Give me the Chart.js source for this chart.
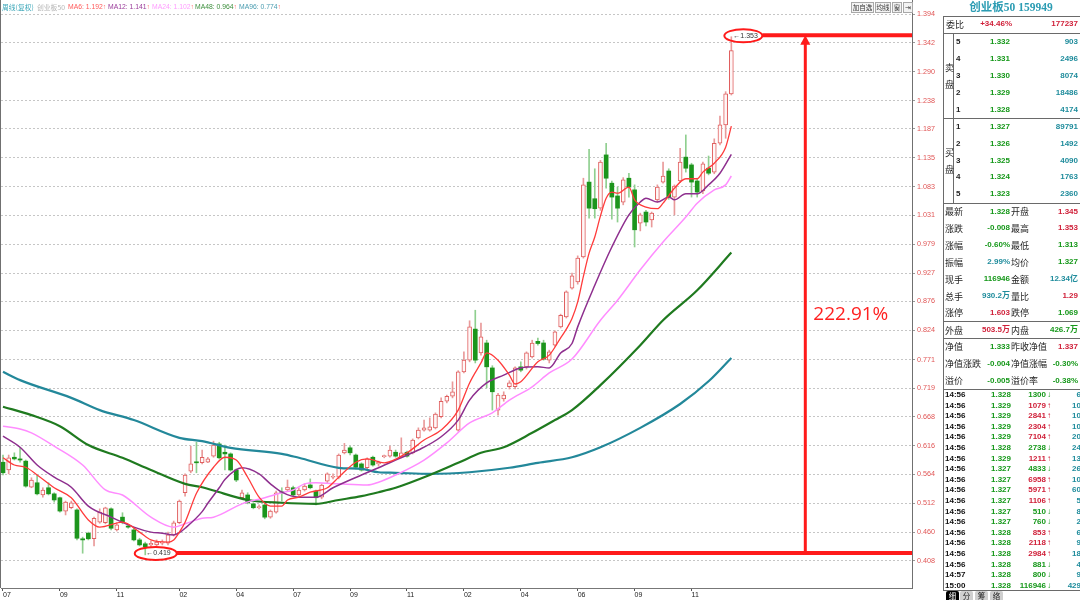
<!DOCTYPE html>
<html lang="zh-CN">
<head>
<meta charset="utf-8">
<title>创业板50 159949 周线</title>
<script src="https://cdn.jsdelivr.net/npm/chart.js@4.4.1/dist/chart.umd.min.js"></script>
<style>
html,body{margin:0;padding:0;background:#fff;}
#wrap{position:relative;width:1080px;height:600px;overflow:hidden;background:#fff;font-family:"Liberation Sans","Noto Sans CJK SC",Arial,sans-serif;}
#cv{position:absolute;left:0;top:0;}
.t{position:absolute;white-space:nowrap;}
.hl{position:absolute;height:1px;background:#6a6a6a;}
.vl{position:absolute;width:1px;background:#6a6a6a;}
.btn{position:absolute;top:2px;height:11px;border:1px solid #a8a8a8;background:#f3f3f3;font-size:6.5px;line-height:9px;text-align:center;color:#333;box-sizing:border-box;font-family:"Noto Sans CJK SC",sans-serif;}
.tab{position:absolute;top:591px;height:9px;width:13px;font-size:7.5px;line-height:9px;text-align:center;font-family:"Noto Sans CJK SC",sans-serif;border-radius:2px 2px 0 0;}
</style>
</head>
<body>
<div id="wrap">
<canvas id="cv" width="944" height="600"></canvas>
</div>
<script>
// ---------------- data (weekly candles) ----------------
const opens = [
0.586,0.572,0.595,0.592,0.588,0.541,0.549,0.527,0.540,0.529,
0.522,0.498,0.504,0.500,0.448,0.458,0.448,0.478,0.477,0.502,
0.464,0.487,0.471,0.464,0.446,0.439,0.437,0.437,0.440,0.440,
0.455,0.477,0.531,0.570,0.586,0.585,0.586,0.597,0.619,0.604,
0.601,0.572,0.522,0.527,0.511,0.504,0.509,0.487,0.496,0.532,
0.536,0.540,0.527,0.536,0.545,0.534,0.523,0.552,0.559,0.559,
0.603,0.612,0.599,0.583,0.576,0.595,0.583,0.596,0.597,0.604,
0.595,0.604,0.603,0.630,0.644,0.644,0.648,0.668,0.696,0.705,
0.644,0.749,0.770,0.826,0.783,0.801,0.756,0.680,0.700,0.722,
0.722,0.758,0.758,0.776,0.804,0.801,0.770,0.797,0.830,0.848,
0.900,0.911,0.956,1.091,1.061,1.044,1.140,1.089,1.066,1.055,
1.098,1.077,1.017,1.037,1.023,1.059,1.091,1.111,1.064,1.093,
1.136,1.122,1.093,1.075,1.116,1.109,1.161,1.194,1.250];
const highs = [
0.599,0.599,0.603,0.613,0.590,0.558,0.563,0.540,0.549,0.531,
0.523,0.516,0.516,0.502,0.451,0.460,0.487,0.502,0.505,0.504,
0.477,0.495,0.473,0.467,0.449,0.442,0.444,0.446,0.446,0.460,
0.480,0.518,0.565,0.615,0.622,0.608,0.595,0.624,0.622,0.617,
0.603,0.574,0.536,0.531,0.513,0.509,0.511,0.500,0.534,0.540,
0.554,0.543,0.540,0.547,0.556,0.536,0.547,0.567,0.565,0.601,
0.620,0.615,0.601,0.585,0.594,0.597,0.588,0.599,0.615,0.608,
0.630,0.606,0.628,0.648,0.662,0.666,0.675,0.702,0.707,0.731,
0.751,0.785,0.841,0.860,0.837,0.806,0.760,0.710,0.713,0.733,
0.758,0.767,0.785,0.806,0.810,0.806,0.788,0.823,0.853,0.895,
0.927,0.958,1.098,1.150,1.115,1.130,1.161,1.093,1.082,1.099,
1.107,1.086,1.035,1.040,1.037,1.086,1.127,1.115,1.086,1.152,
1.176,1.125,1.098,1.127,1.138,1.169,1.210,1.254,1.353];
const lows = [
0.563,0.565,0.590,0.586,0.541,0.540,0.527,0.523,0.527,0.514,
0.496,0.491,0.502,0.446,0.422,0.446,0.435,0.476,0.475,0.464,
0.462,0.475,0.467,0.444,0.435,0.419,0.433,0.435,0.437,0.437,
0.453,0.475,0.525,0.567,0.567,0.583,0.585,0.595,0.592,0.572,
0.570,0.551,0.520,0.511,0.502,0.502,0.484,0.485,0.494,0.516,
0.534,0.525,0.525,0.534,0.538,0.509,0.520,0.549,0.556,0.556,
0.601,0.599,0.574,0.570,0.574,0.579,0.579,0.594,0.595,0.595,
0.594,0.595,0.601,0.628,0.642,0.642,0.646,0.666,0.693,0.702,
0.642,0.747,0.767,0.765,0.779,0.720,0.680,0.671,0.696,0.718,
0.718,0.749,0.754,0.774,0.797,0.770,0.765,0.795,0.828,0.846,
0.898,0.907,0.954,1.026,1.026,1.040,1.080,1.024,1.019,1.050,
1.064,0.974,1.003,1.012,1.010,1.055,1.089,1.060,1.032,1.090,
1.109,1.064,1.064,1.070,1.104,1.106,1.158,1.170,1.248];
const closes = [
0.567,0.594,0.592,0.590,0.543,0.554,0.529,0.536,0.529,0.518,
0.498,0.514,0.513,0.449,0.446,0.448,0.485,0.496,0.504,0.467,
0.473,0.477,0.469,0.446,0.437,0.433,0.440,0.442,0.442,0.455,
0.477,0.516,0.563,0.583,0.585,0.595,0.592,0.617,0.594,0.601,
0.572,0.554,0.531,0.513,0.504,0.506,0.487,0.498,0.531,0.531,
0.541,0.527,0.536,0.543,0.540,0.522,0.545,0.565,0.560,0.599,
0.608,0.603,0.577,0.572,0.592,0.581,0.586,0.597,0.608,0.597,
0.603,0.597,0.626,0.644,0.648,0.650,0.673,0.696,0.705,0.713,
0.749,0.770,0.830,0.770,0.812,0.758,0.713,0.707,0.707,0.729,
0.756,0.752,0.783,0.801,0.800,0.772,0.785,0.821,0.851,0.893,
0.922,0.954,1.086,1.044,1.043,1.127,1.098,1.064,1.044,1.095,
1.082,1.005,1.032,1.019,1.035,1.082,1.102,1.063,1.084,1.127,
1.116,1.091,1.073,1.124,1.107,1.161,1.194,1.250,1.328];

// moving averages: [candle index, value]
const ma6 = [[0,.594],[2,.581],[4,.577],[6,.563],[9,.540],[12,.522],[15,.482],[17,.469],[21,.478],[24,.460],[26,.446],[29,.442],[30,.446],[31,.460],[32,.478],[34,.530],[37,.577],[39,.595],[41,.590],[43,.559],[45,.523],[47,.507],[49,.507],[50,.518],[52,.523],[54,.532],[57,.540],[59,.559],[62,.586],[64,.592],[67,.585],[71,.603],[74,.626],[77,.644],[80,.680],[82,.729],[84,.765],[85,.783],[87,.770],[89,.743],[90,.727],[91,.731],[94,.767],[96,.779],[98,.810],[99,.826],[100,.845],[101,.875],[102,.921],[103,.963],[104,.992],[105,1.030],[106,1.062],[107,1.073],[108,1.071],[110,1.082],[111,1.059],[113,1.046],[115,1.043],[116,1.053],[118,1.080],[120,1.097],[122,1.097],[123,1.109],[125,1.125],[127,1.154],[128,1.192]];
const ma12 = [[0,.633],[3,.613],[6,.581],[9,.559],[12,.541],[15,.507],[19,.487],[23,.469],[26,.460],[28,.458],[30,.455],[31,.459],[32,.467],[35,.497],[36,.512],[38,.540],[39,.555],[42,.576],[45,.565],[47,.547],[49,.532],[52,.523],[55,.523],[58,.540],[63,.563],[66,.576],[69,.590],[73,.608],[77,.632],[80,.662],[82,.698],[85,.729],[88,.743],[91,.756],[94,.758],[96,.756],[98,.783],[100,.800],[101,.830],[104,.905],[107,.974],[110,1.032],[112,1.055],[113,1.062],[115,1.055],[117,1.064],[118,1.059],[120,1.070],[122,1.070],[124,1.086],[126,1.107],[128,1.141]];
const ma24 = [[0,.651],[3,.646],[5,.639],[9,.615],[14,.581],[18,.536],[21,.527],[26,.487],[30,.469],[32,.475],[35,.485],[37,.487],[42,.511],[46,.522],[49,.531],[51,.536],[53,.547],[55,.549],[59,.547],[64,.545],[66,.550],[69,.563],[74,.590],[78,.621],[82,.657],[86,.675],[89,.698],[93,.722],[96,.747],[100,.772],[105,.842],[108,.878],[112,.933],[116,.983],[120,1.028],[122,1.053],[125,1.077],[127,1.086],[128,1.102]];
const ma48 = [[0,.686],[5,.671],[10,.651],[15,.617],[21,.594],[26,.572],[32,.547],[35,.541],[37,.535],[43,.518],[49,.513],[55,.511],[59,.518],[63,.525],[66,.532],[69,.540],[75,.563],[80,.585],[84,.603],[88,.613],[93,.639],[97,.662],[100,.680],[105,.725],[112,.797],[116,.842],[122,.896],[128,.964]];
const ma96 = [[0,.749],[3,.734],[12,.702],[17,.680],[23,.662],[31,.630],[35,.624],[40,.612],[49,.601],[52,.594],[59,.576],[63,.574],[66,.568],[69,.567],[75,.565],[82,.568],[89,.576],[94,.585],[100,.595],[105,.613],[112,.648],[119,.691],[124,.732],[128,.774]];

const yTickVals = [1.394,1.342,1.290,1.238,1.187,1.135,1.083,1.031,0.979,0.927,0.876,0.824,0.771,0.719,0.668,0.616,0.564,0.512,0.460,0.408];
const yTickLabels = ['1.394','1.342','1.290','1.238','1.187','1.135','1.083','1.031','0.979','0.927','0.876','0.824','0.771','0.719','0.668','0.616','0.564','0.512','0.460','0.408'];
const xTickIdx = [0,10,20,31,41,51,61,71,81,91,101,111,121];
const xTickLabels = ['07','09','11','02','04','07','09','11','02','04','06','09','11'];

const maNames = ['MA6','MA12','MA24','MA48','MA96'];
const maLast = ['1.192','1.141','1.102','0.964','0.774'];

// right-hand quote panel content
const askLevels = ['5','4','3','2','1'];
const askPrices = ['1.332','1.331','1.330','1.329','1.328'];
const askVols = ['903','2496','8074','18486','4174'];
const bidLevels = ['1','2','3','4','5'];
const bidPrices = ['1.327','1.326','1.325','1.324','1.323'];
const bidVols = ['89791','1492','4090','1763','2360'];
const infoRows = [
 ['最新','1.328','g','开盘','1.345','r'],
 ['涨跌','-0.008','g','最高','1.353','r'],
 ['涨幅','-0.60%','g','最低','1.313','g'],
 ['振幅','2.99%','t','均价','1.327','g'],
 ['现手','116946','g','金额','12.34亿','t'],
 ['总手','930.2万','t','量比','1.29','r'],
 ['涨停','1.603','r','跌停','1.069','g']];
const outerRow = ['外盘','503.5万','r','内盘','426.7万','g'];
const navRows = [
 ['净值','1.333','g','昨收净值','1.337','r'],
 ['净值涨跌','-0.004','g','净值涨幅','-0.30%','g'],
 ['溢价','-0.005','g','溢价率','-0.38%','g']];
const tickTimes = ['14:56','14:56','14:56','14:56','14:56','14:56','14:56','14:56','14:56','14:56','14:56','14:56','14:56','14:56','14:56','14:56','14:56','14:57','15:00'];
const tickPrices = ['1.328','1.329','1.329','1.329','1.329','1.328','1.329','1.327','1.327','1.327','1.327','1.327','1.327','1.328','1.328','1.328','1.328','1.328','1.328'];
const tickVols = ['1300','1079','2841','2304','7104','2738','1211','4833','6958','5971','1106','510','760','853','2118','2984','881','800','116946'];
const tickDirs = ['d','u','u','u','u','d','u','d','u','u','u','d','d','u','u','u','d','d','d'];
const tickCounts = ['6','10','10','10','20','24','13','26','10','60','5','8','2','6','9','18','4','9','429'];

// ---------------- chart ----------------
const C = {g:'#16981a', r:'#d0213a', t:'#1f8c9c', k:'#1e1e1e'};
const idxAll = closes.map((_, i) => i);
const upI = idxAll.filter(i => closes[i] >= opens[i]);
const dnI = idxAll.filter(i => closes[i] < opens[i]);
const toXY = arr => arr.map(p => ({x: p[0], y: p[1]}));
const arrowIdx = 141;

const maStyle = [
  {d: ma6,  c: '#ff3b3b', w: 1.3},
  {d: ma12, c: '#8e2f8e', w: 1.5},
  {d: ma24, c: '#ff8cff', w: 1.5},
  {d: ma48, c: '#1f7a1f', w: 2.2},
  {d: ma96, c: '#23889a', w: 2.2}
];

const markers = {
  id: 'markers',
  afterDatasetsDraw(chart) {
    const {ctx, chartArea: ca, scales: {x: xs, y: ys}} = chart;
    const hiVal = Math.max(...highs), hiI = highs.indexOf(hiVal);
    const loVal = Math.min(...lows), loI = lows.indexOf(loVal);
    const hx = xs.getPixelForValue(hiI), hy = ys.getPixelForValue(hiVal);
    const lx = xs.getPixelForValue(loI), ly = ys.getPixelForValue(loVal);
    ctx.save();
    // frame
    ctx.strokeStyle = '#707070'; ctx.lineWidth = 1;
    ctx.beginPath();
    ctx.moveTo(0.5, 0); ctx.lineTo(0.5, ca.bottom);
    const rx = Math.round(ca.right) + 0.5;
    ctx.moveTo(rx, 0); ctx.lineTo(rx, ca.bottom);
    ctx.stroke();
    const red = '#ff1a1a';
    // labels
    ctx.font = '7px "Liberation Sans", Arial, sans-serif';
    ctx.fillStyle = '#333'; ctx.textBaseline = 'middle'; ctx.textAlign = 'left';
    ctx.fillText('\u2190' + hiVal.toFixed(3), hx + 2, hy - 1);
    ctx.fillText('\u2190' + loVal.toFixed(3), lx + 1, ly - 2);
    ctx.strokeStyle = red; ctx.lineWidth = 2;
    ctx.beginPath(); ctx.ellipse(hx + 12, hy - 1, 19, 6.5, 0, 0, Math.PI * 2); ctx.stroke();
    ctx.beginPath(); ctx.ellipse(lx + 10.5, ly - 1.5, 21, 6.5, 0, 0, Math.PI * 2); ctx.stroke();
    // horizontal level lines
    ctx.lineWidth = 4;
    ctx.beginPath(); ctx.moveTo(hx + 31, hy - 1.5); ctx.lineTo(ca.right, hy - 1.5); ctx.stroke();
    ctx.beginPath(); ctx.moveTo(lx + 31.5, ly - 2); ctx.lineTo(ca.right, ly - 2); ctx.stroke();
    // vertical arrow
    const ax = xs.getPixelForValue(arrowIdx);
    ctx.lineWidth = 3;
    ctx.beginPath(); ctx.moveTo(ax, ly - 2); ctx.lineTo(ax, hy + 6); ctx.stroke();
    ctx.fillStyle = red;
    ctx.beginPath(); ctx.moveTo(ax, hy - 1.5); ctx.lineTo(ax - 5, hy + 8); ctx.lineTo(ax + 5, hy + 8); ctx.closePath(); ctx.fill();
    // gain text
    const pct = ((hiVal / loVal - 1) * 100).toFixed(2) + '%';
    ctx.font = '19px "Open Sans", "Liberation Sans", sans-serif';
    ctx.fillStyle = '#ff2020'; ctx.textBaseline = 'middle';
    ctx.fillText(pct, ax + 8, (hy + ly) / 2 + 19);
    ctx.restore();
  }
};

const datasets = [];
maStyle.forEach((m, k) => datasets.push({
  type: 'line', label: maNames[k], data: toXY(m.d), borderColor: m.c, borderWidth: m.w,
  pointRadius: 0, cubicInterpolationMode: 'monotone', fill: false, order: 0
}));
datasets.push({type: 'bar', label: 'up', data: upI.map(i => ({x: i, y: [opens[i], closes[i]]})),
  backgroundColor: '#fff7f7', borderColor: '#e05f5f', borderWidth: 1, borderSkipped: false,
  barThickness: 4, grouped: false, minBarLength: 1, order: 1});
datasets.push({type: 'bar', label: 'down', data: dnI.map(i => ({x: i, y: [opens[i], closes[i]]})),
  backgroundColor: '#1c951c', borderColor: '#1c951c', borderWidth: 0, borderSkipped: false,
  barThickness: 4, grouped: false, minBarLength: 1, order: 1});
datasets.push({type: 'bar', label: 'upWick', data: upI.map(i => ({x: i, y: [lows[i], highs[i]]})),
  backgroundColor: '#e99a9a', borderWidth: 0, barThickness: 1, grouped: false, order: 2});
datasets.push({type: 'bar', label: 'downWick', data: dnI.map(i => ({x: i, y: [lows[i], highs[i]]})),
  backgroundColor: '#8fcf8f', borderWidth: 0, barThickness: 1, grouped: false, order: 2});

new Chart(document.getElementById('cv'), {
  type: 'bar',
  data: {datasets},
  options: {
    responsive: false, animation: false, devicePixelRatio: 1,
    layout: {padding: {left: 1, top: 14, right: 0, bottom: 0}},
    plugins: {legend: {display: false}, tooltip: {enabled: false}},
    scales: {
      x: {
        type: 'linear', min: -0.35, max: 159.75, offset: false,
        afterFit: s => { s.height = 12; },
        afterBuildTicks: s => { s.ticks = xTickIdx.map(v => ({value: v})); },
        ticks: {autoSkip: false, maxRotation: 0, align: 'start', padding: 0,
          font: {size: 7, family: '"Liberation Sans", Arial'}, color: '#222',
          callback: (v, i) => xTickLabels[i]},
        grid: {display: true, drawOnChartArea: false, drawTicks: true, tickLength: 3, offset: false, tickColor: '#555'},
        border: {display: true, color: '#777'}
      },
      y: {
        type: 'linear', position: 'right', min: 0.3593, max: 1.394,
        afterFit: s => { s.width = 32; },
        afterBuildTicks: s => { s.ticks = yTickVals.map(v => ({value: v})); },
        ticks: {autoSkip: false, padding: 2, font: {size: 7.2, family: '"Liberation Sans", Arial'}, color: '#e05555',
          callback: (v, i) => yTickLabels[i]},
        grid: {color: '#c6c6c6', lineWidth: 1, tickLength: 3, tickColor: '#999'},
        border: {display: true, color: '#707070', dash: [2, 2]}
      }
    }
  },
  plugins: [markers]
});

// ---------------- HTML text overlay ----------------
const W = document.getElementById('wrap');
function T(x, y, s, o = {}) {
  const d = document.createElement('div');
  d.className = 't';
  const fs = o.fs || 8;
  d.style.fontSize = fs + 'px';
  d.style.lineHeight = (fs + 2) + 'px';
  d.style.top = (y - (fs + 2) / 2) + 'px';
  if (o.right) d.style.right = (1080 - x) + 'px';
  else if (o.center) { d.style.left = x + 'px'; d.style.transform = 'translateX(-50%)'; }
  else d.style.left = x + 'px';
  d.style.color = o.c || C.k;
  if (o.b) d.style.fontWeight = 'bold';
  if (o.f) d.style.fontFamily = o.f;
  if (o.html) d.innerHTML = s; else d.textContent = s;
  W.appendChild(d);
  return d;
}
function HL(x1, x2, y) { const d = document.createElement('div'); d.className = 'hl'; d.style.left = x1 + 'px'; d.style.width = (x2 - x1) + 'px'; d.style.top = y + 'px'; W.appendChild(d); }
function VL(x, y1, y2) { const d = document.createElement('div'); d.className = 'vl'; d.style.left = x + 'px'; d.style.top = y1 + 'px'; d.style.height = (y2 - y1) + 'px'; W.appendChild(d); }

// header
const CJK = '"Noto Sans CJK SC", sans-serif';
T(2, 7, '周线(复权)', {fs: 6.8, c: '#3aa6b8', f: CJK});
T(37, 7, '创业板50', {fs: 6.8, c: '#b4b4b4', f: CJK});
const maTxtCol = ['#ff5a5a', '#9a3c9a', '#ff9cff', '#3d8f3d', '#4a9cb0'];
const maTxtX = [68, 108, 152, 195, 239];
maNames.forEach((n, k) => T(maTxtX[k], 7, n + ': ' + maLast[k] + '<span style="color:#ff6a6a">\u2191</span>', {fs: 6.8, c: maTxtCol[k], html: true}));
// buttons
[['加自选', 851, 23], ['均线', 875, 16], ['窗', 892, 10], ['\u21e5', 903, 10]].forEach(b => {
  const d = document.createElement('div'); d.className = 'btn';
  d.style.left = b[1] + 'px'; d.style.width = b[2] + 'px'; d.textContent = b[0]; W.appendChild(d);
});

// right panel
const PX = 943;
VL(PX, 16, 591);
HL(PX, 1080, 16);
T(1011, 8, '创业板50 159949', {fs: 11.5, c: '#2b9cb3', b: true, center: true, f: '"Liberation Serif", "Noto Sans CJK SC", serif'});
T(946, 24, '委比', {fs: 9, f: CJK});
T(1012, 24, '+34.46%', {c: C.r, right: true, b: true});
T(1078, 24, '177237', {c: C.r, right: true, b: true});
HL(PX, 1080, 33);
VL(953, 33, 203);
T(945, 67, '卖', {fs: 9, f: CJK});
T(945, 84, '盘', {fs: 9, f: CJK});
askLevels.forEach((l, k) => {
  const y = 42 + k * 17;
  T(956, y, l, {b: true});
  T(1010, y, askPrices[k], {c: C.g, right: true, b: true});
  T(1078, y, askVols[k], {c: C.t, right: true, b: true});
});
HL(PX, 1080, 118);
T(945, 152, '买', {fs: 9, f: CJK});
T(945, 169, '盘', {fs: 9, f: CJK});
bidLevels.forEach((l, k) => {
  const y = 127 + k * 16.8;
  T(956, y, l, {b: true});
  T(1010, y, bidPrices[k], {c: C.g, right: true, b: true});
  T(1078, y, bidVols[k], {c: C.t, right: true, b: true});
});
HL(PX, 1080, 203);
function infoRow(r, y) {
  T(945, y, r[0], {fs: 9, f: CJK});
  T(1010, y, r[1], {c: C[r[2]], right: true, b: true});
  T(1011, y, r[3], {fs: 9, f: CJK});
  T(1078, y, r[4], {c: C[r[5]], right: true, b: true});
}
infoRows.forEach((r, k) => infoRow(r, 211.5 + k * 16.9));
HL(PX, 1080, 321);
infoRow(outerRow, 330);
HL(PX, 1080, 338);
navRows.forEach((r, k) => infoRow(r, 346.5 + k * 17.2));
HL(PX, 1080, 389);
tickTimes.forEach((t, k) => {
  const y = 395 + k * 10.6;
  T(945, y, t, {b: true, c: '#111'});
  T(1011, y, tickPrices[k], {c: C.g, right: true, b: true});
  const up = tickDirs[k] === 'u';
  T(1046, y, tickVols[k], {c: up ? C.r : C.g, right: true, b: true});
  T(1047, y, up ? '\u2191' : '\u2193', {c: up ? C.r : C.g, b: true, fs: 8});
  T(1081, y, tickCounts[k], {c: C.t, right: true, b: true});
});
HL(PX, 1080, 590);
[['细', 946, '#000', '#fff'], ['分', 960, '#cfcfcf', '#222'], ['筹', 975, '#cfcfcf', '#222'], ['络', 990, '#cfcfcf', '#222']].forEach(tb => {
  const d = document.createElement('div'); d.className = 'tab';
  d.style.left = tb[1] + 'px'; d.style.background = tb[2]; d.style.color = tb[3]; d.textContent = tb[0]; W.appendChild(d);
});
</script>
</body>
</html>
